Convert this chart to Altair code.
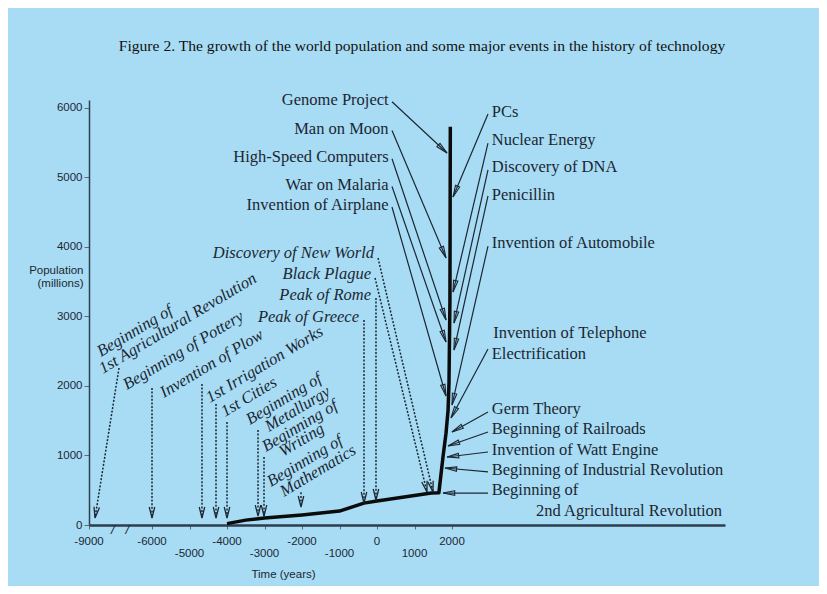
import math
import altair as alt
import pandas as pd

# ---------------- data ----------------
# population curve (years, millions)
curve_year = [-4000, -3500, -3000, -2000, -1000, -350, 0, 1450, 1650, 1760, 1840, 1895, 1920, 1945, 1955]
curve_pop = [20, 70, 100, 145, 200, 315, 345, 460, 465, 980, 1320, 1650, 2040, 3240, 5730]

# right-hand labels (regular serif), anchored at their left edge
right_labels = ["PCs", "Nuclear Energy", "Discovery of DNA", "Penicillin", "Invention of Automobile",
                "Invention of Telephone", "Electrification", "Germ Theory", "Beginning of Railroads",
                "Invention of Watt Engine", "Beginning of Industrial Revolution", "Beginning of",
                "2nd Agricultural Revolution"]
right_label_year = [3060, 3060, 3060, 3060, 3060, 3100, 3060, 3060, 3060, 3060, 3060, 3060, 4240]
right_label_pop = [5947, 5539, 5151, 4748, 4057, 2762, 2460, 1669, 1381, 1079, 791, 504, 201]

# right-hand solid arrows: start -> tip
right_arrow_year0 = [2960, 2960, 2960, 2960, 2960, 2960, 2960, 2960, 2960, 2960, 2960]
right_arrow_pop0 = [5913, 5496, 5108, 4734, 4014, 2532, 1626, 1338, 1050, 763, 460]
right_arrow_year1 = [2027, 2027, 2053, 2053, 2000, 1973, 2000, 1893, 1867, 1813, 1760]
right_arrow_pop1 = [4719, 3352, 2906, 2518, 1727, 1540, 1338, 1137, 978, 820, 460]

# upper-left labels (regular serif), anchored at their right edge
left_labels = ["Genome Project", "Man on Moon", "High-Speed Computers", "War on Malaria", "Invention of Airplane"]
left_label_year = [310, 310, 310, 310, 310]
left_label_pop = [6115, 5698, 5295, 4892, 4604]
left_arrow_year0 = [400, 400, 400, 400, 400]
left_arrow_pop0 = [6090, 5675, 5270, 4870, 4575]
left_arrow_year1 = [1867, 1840, 1840, 1840, 1840]
left_arrow_pop1 = [5352, 3842, 2950, 2633, 1856]

# italic labels with dotted arrows, right aligned
mid_labels = ["Discovery of New World", "Black Plague", "Peak of Rome", "Peak of Greece"]
mid_label_year = [-80, -160, -160, -480]
mid_label_pop = [3914, 3611, 3309, 2993]

# rotated italic labels (one row per text line), anchored at baseline start
rot_labels = ["Beginning of", "1st Agricultural Revolution", "Beginning of Pottery", "Invention of Plow",
              "1st Irrigation Works", "1st Cities", "Beginning of", "Metallurgy", "Beginning of",
              "Writing", "Beginning of", "Mathematics"]
rot_label_year = [-8429, -8333, -7190, -5680, -4453, -4053, -3387, -2880, -2960, -2507, -2827, -2480]
rot_label_pop = [2417, 2173, 1942, 1827, 1755, 1554, 1439, 1338, 1050, 978, 547, 403]

# dotted arrows: start -> tip
dot_year0 = [27, -53, -27, -347, -7571, -6000, -4667, -4293, -4000, -3173, -3013, -2027]
dot_pop0 = [3842, 3554, 3266, 2950, 2259, 1971, 2029, 1741, 1482, 1367, 978, 470]
dot_year1 = [1493, 1333, -27, -347, -8714, -6000, -4667, -4293, -4000, -3173, -3013, -2027]
dot_pop1 = [475, 475, 360, 317, 101, 101, 101, 101, 101, 129, 129, 259]

# axis tick labels (two staggered rows)
x_ticks = [-9000, -6000, -5000, -4000, -3000, -2000, -1000, 0, 1000, 2000]
x_upper = [-9000, -6000, -4000, -2000, 0, 2000]
x_lower = [-5000, -3000, -1000, 1000]
y_ticks = [0, 1000, 2000, 3000, 4000, 5000, 6000]

TITLE = "Figure 2. The growth of the world population and some major events in the history of technology"

# ---------------- layout / styles ----------------
W, H = 636, 425
X_DOMAIN = [-9000, -6000, 2000, 9280]
X_RANGE = [0, 63, 363, 636]
Y_MAX = 6115
BG = "#a8dcf4"
INK = "#1b2733"
SERIF = "Liberation Serif"
SANS = "Liberation Sans"
FS = 16.5


def px(year):
    for i in range(len(X_DOMAIN) - 1):
        a, b = X_DOMAIN[i], X_DOMAIN[i + 1]
        if year <= b or i == len(X_DOMAIN) - 2:
            return X_RANGE[i] + (year - a) / (b - a) * (X_RANGE[i + 1] - X_RANGE[i])


def py(pop):
    return H - pop / Y_MAX * H


def head_angle(x0, y0, x1, y1):
    dx = px(x1) - px(x0)
    dy = py(y1) - py(y0)
    return math.degrees(math.atan2(-dx, dy)) % 360


xscale = alt.Scale(domain=X_DOMAIN, range=X_RANGE, nice=False, zero=False)
yscale = alt.Scale(domain=[0, Y_MAX], nice=False)

xaxis = alt.Axis(values=x_ticks, labels=False, grid=False, title="Time (years)",
                 titleFont=SANS, titleFontSize=11.5, titleFontWeight="normal", titleColor=INK,
                 titleX=194, titleY=49, titleBaseline="middle", titleAnchor="start", titleAlign="center",
                 tickSize=4, tickColor="#5a6c7c", domainColor="#2d3e4e", domainWidth=2.5)
yaxis = alt.Axis(values=y_ticks, format="d", grid=False, title=["Population", "(millions)"],
                 titleFont=SANS, titleFontSize=11.5, titleFontWeight="normal", titleColor=INK,
                 titleAngle=0, titleAlign="right", titleBaseline="top", titleX=-6, titleY=164,
                 titleLineHeight=13,
                 labelFont=SANS, labelFontSize=11.5, labelColor=INK, labelPadding=2,
                 tickSize=5, tickColor="#5a6c7c", domainColor="#2d3e4e", domainWidth=1.5)


def X(f):
    return alt.X(f, type="quantitative", scale=xscale, axis=xaxis)


def Y(f):
    return alt.Y(f, type="quantitative", scale=yscale, axis=yaxis)


curve_df = pd.DataFrame({"year": curve_year, "pop": curve_pop})
curve = alt.Chart(curve_df).mark_line(color="#0b0b0b", strokeWidth=3.5, strokeJoin="round").encode(
    x=X("year"), y=Y("pop"), order="year:Q")

solid_df = pd.DataFrame({
    "x0": right_arrow_year0 + left_arrow_year0,
    "y0": right_arrow_pop0 + left_arrow_pop0,
    "x1": right_arrow_year1 + left_arrow_year1,
    "y1": right_arrow_pop1 + left_arrow_pop1,
})
solid_df["ang"] = [head_angle(*r) for r in solid_df[["x0", "y0", "x1", "y1"]].values]
solid_rules = alt.Chart(solid_df).mark_rule(color=INK, strokeWidth=1.2).encode(
    x=X("x0"), y=Y("y0"), x2="x1", y2="y1")
solid_heads = alt.Chart(solid_df).mark_point(
    shape="M-0.5,-2.6L0,0L0.5,-2.6Z", filled=False, color=INK, strokeWidth=1.1, size=81, opacity=1
).encode(x=X("x1"), y=Y("y1"), angle=alt.Angle("ang:Q", scale=None))

dot_df = pd.DataFrame({"x0": dot_year0, "y0": dot_pop0, "x1": dot_year1, "y1": dot_pop1})
dot_df["ang"] = [head_angle(*r) for r in dot_df[["x0", "y0", "x1", "y1"]].values]
dot_rules = alt.Chart(dot_df).mark_rule(color=INK, strokeWidth=1.5, strokeDash=[2, 1.6]).encode(
    x=X("x0"), y=Y("y0"), x2="x1", y2="y1")
dot_heads = alt.Chart(dot_df).mark_point(
    shape="M-0.55,-2.2L0,0L0.55,-2.2", filled=False, color=INK, strokeWidth=1.3, size=100, opacity=1
).encode(x=X("x1"), y=Y("y1"), angle=alt.Angle("ang:Q", scale=None))

right_df = pd.DataFrame({"t": right_labels, "x": right_label_year, "y": right_label_pop})
right_text = alt.Chart(right_df).mark_text(
    font=SERIF, fontSize=FS, color=INK, align="left", baseline="middle"
).encode(x=X("x"), y=Y("y"), text="t:N")

left_df = pd.DataFrame({"t": left_labels, "x": left_label_year, "y": left_label_pop})
left_text = alt.Chart(left_df).mark_text(
    font=SERIF, fontSize=FS, color=INK, align="right", baseline="middle"
).encode(x=X("x"), y=Y("y"), text="t:N")

mid_df = pd.DataFrame({"t": mid_labels, "x": mid_label_year, "y": mid_label_pop})
mid_text = alt.Chart(mid_df).mark_text(
    font=SERIF, fontSize=FS, fontStyle="italic", color=INK, align="right", baseline="middle"
).encode(x=X("x"), y=Y("y"), text="t:N")

rot_df = pd.DataFrame({"t": rot_labels, "x": rot_label_year, "y": rot_label_pop})
rot_text = alt.Chart(rot_df).mark_text(
    font=SERIF, fontSize=FS, fontStyle="italic", color=INK, align="left", baseline="alphabetic", angle=329
).encode(x=X("x"), y=Y("y"), text="t:N")

up_df = pd.DataFrame({"v": x_upper, "y": [0] * len(x_upper)})
up_df["t"] = [str(v) for v in x_upper]
lo_df = pd.DataFrame({"v": x_lower, "y": [0] * len(x_lower)})
lo_df["t"] = [str(v) for v in x_lower]
up_text = alt.Chart(up_df).mark_text(font=SANS, fontSize=11.5, color=INK, baseline="middle", dy=17).encode(
    x=X("v"), y=Y("y"), text="t:N")
lo_text = alt.Chart(lo_df).mark_text(font=SANS, fontSize=11.5, color=INK, baseline="middle", dy=29).encode(
    x=X("v"), y=Y("y"), text="t:N")

brk_df = pd.DataFrame({"x": [-7524], "y": [0], "t": ["/\u00a0\u00a0\u00a0/"]})
brk = alt.Chart(brk_df).mark_text(font=SANS, fontSize=13, fontStyle="italic", color=INK,
                                  baseline="middle", dy=5).encode(
    x=X("x"), y=Y("y"), text="t:N")

chart = alt.layer(
    curve, solid_rules, solid_heads, dot_rules, dot_heads,
    right_text, left_text, mid_text, rot_text, up_text, lo_text, brk
).properties(
    width=W, height=H,
    padding={"left": 81, "top": 92, "right": 94, "bottom": 61},
    autosize=alt.AutoSizeParams(type="none"),
    title=alt.TitleParams(TITLE, font=SERIF, fontSize=15.6, fontWeight="normal", color="#111111",
                          anchor="middle", frame="group", dx=15, offset=37),
).configure(background=BG).configure_view(stroke=None)

chart.save("out.html", embed_options={"renderer": "svg", "actions": False})
